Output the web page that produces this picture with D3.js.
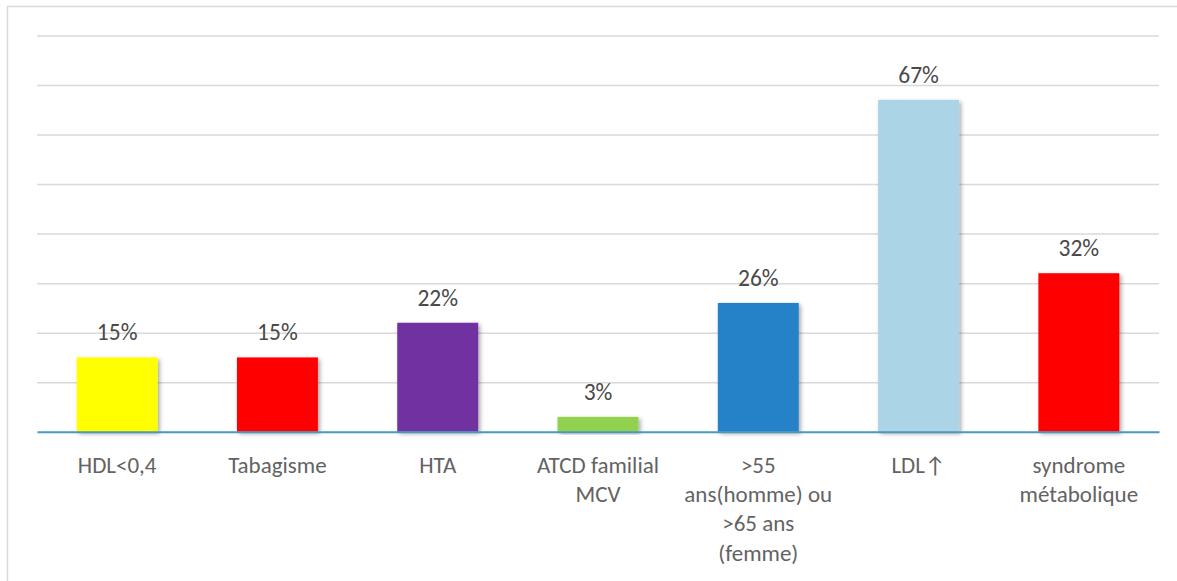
<!DOCTYPE html>
<html>
<head>
<meta charset="utf-8">
<script src="https://cdn.jsdelivr.net/npm/d3@7"></script>
<style>
  html, body { margin: 0; padding: 0; background: #fff; }
  svg { display: block; }
  text { font-family: Calibri, Carlito, Lato, "Noto Sans", sans-serif; }
</style>
</head>
<body>
<svg id="chart" width="1177" height="581"></svg>
<script>
// Cardiovascular risk factors, share of patients (%)
const categories = [
  "HDL<0,4",
  "Tabagisme",
  "HTA",
  "ATCD familial\nMCV",
  ">55\nans(homme) ou\n>65 ans\n(femme)",
  "LDL\u2191",
  "syndrome\nmétabolique"
];
const values = [15, 15, 22, 3, 26, 67, 32];
const barColors = ["#FFFF00", "#FF0000", "#7030A0", "#92D050", "#2682C8", "#ABD5E7", "#FF0000"];
const gridTicks = [10, 20, 30, 40, 50, 60, 70, 80];

const svg = d3.select("#chart");
const W = 1177, H = 581;
const plot = { left: 37, right: 1159, top: 35.5, bottom: 431.7 };

// Drop shadow under each bar
const defs = svg.append("defs");
const f = defs.append("filter").attr("id", "shadow")
  .attr("x", "-20%").attr("y", "-20%").attr("width", "140%").attr("height", "140%");
f.append("feDropShadow").attr("dx", 2).attr("dy", 2).attr("stdDeviation", 2.2)
  .attr("flood-color", "#000").attr("flood-opacity", 0.35);

// Outer frame
svg.append("rect")
  .attr("x", 7.5).attr("y", 6.5).attr("width", W + 20).attr("height", H + 20)
  .attr("fill", "#fff").attr("stroke", "#D9D9D9").attr("stroke-width", 1.5);

const x = d3.scaleBand()
  .domain(categories)
  .range([plot.left, plot.right])
  .paddingInner(0.495)
  .paddingOuter(0.2475);

const y = d3.scaleLinear().domain([0, 80]).range([plot.bottom, plot.top]);

// Horizontal gridlines
svg.append("g")
  .attr("transform", `translate(${plot.left},0)`)
  .call(d3.axisLeft(y).tickValues(gridTicks).tickSize(-(plot.right - plot.left)).tickFormat(""))
  .call(g => g.select(".domain").remove())
  .call(g => g.selectAll(".tick line").attr("stroke", "#D9D9D9").attr("stroke-width", 1.5));

// Bars
svg.append("g").selectAll("rect")
  .data(values)
  .join("rect")
  .attr("x", (d, i) => x(categories[i]))
  .attr("y", d => y(d))
  .attr("width", x.bandwidth())
  .attr("height", d => y(0) - y(d))
  .attr("fill", (d, i) => barColors[i])
  .attr("filter", "url(#shadow)");

// Category axis line
svg.append("g")
  .attr("transform", `translate(0,${plot.bottom})`)
  .call(d3.axisBottom(x).tickSize(0).tickFormat(""))
  .call(g => g.select(".domain").attr("stroke", "#4599C3").attr("stroke-width", 2));

// Value labels
svg.append("g").selectAll("text")
  .data(values)
  .join("text")
  .attr("x", (d, i) => x(categories[i]) + x.bandwidth() / 2)
  .attr("y", d => y(d) - 17)
  .attr("text-anchor", "middle")
  .attr("font-size", 23.5)
  .attr("fill", "#4a4a4a")
  .text(d => d + "%");

// Category labels (multi-line)
const lineH = 29.3;
const lab = svg.append("g").selectAll("text")
  .data(categories)
  .join("text")
  .attr("x", d => x(d) + x.bandwidth() / 2)
  .attr("y", plot.bottom + 41)
  .attr("text-anchor", "middle")
  .attr("font-size", 23)
  .attr("fill", "#636363");
lab.each(function (d) {
  const t = d3.select(this);
  d.split("\n").forEach((line, k) => {
    t.append("tspan")
      .attr("x", x(d) + x.bandwidth() / 2)
      .attr("dy", k === 0 ? 0 : lineH)
      .text(line);
  });
});
</script>
</body>
</html>
